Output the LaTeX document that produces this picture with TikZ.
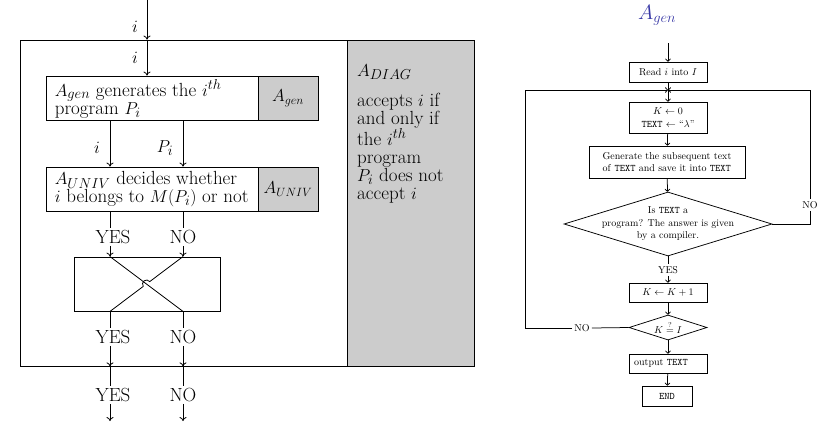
\documentclass[tikz,border=0pt]{standalone}
\usetikzlibrary{arrows.meta,shapes.geometric,calc}
\definecolor{agenblue}{RGB}{55,55,165}
\definecolor{panelgray}{RGB}{204,204,204}
\begin{document}
\begin{tikzpicture}[x=1pt,y=-1pt,
  big/.style={font={\fontsize{19}{18}\selectfont}},
  glab/.style={font={\fontsize{16.5}{18}\selectfont}},
  small/.style={font={\fontsize{10}{12.5}\selectfont}},
  lline/.style={line width=0.8pt},
  larr/.style={line width=0.8pt,-{To[length=4pt,width=7pt]}},
  rline/.style={line width=0.75pt},
  rarr/.style={line width=0.75pt,-{To[length=3pt,width=5.5pt]}},
  wbox/.style={draw,line width=0.8pt,fill=white,inner sep=0pt},
  gbox/.style={draw,line width=0.8pt,fill=panelgray,inner sep=0pt},
  lab/.style={big,inner sep=2pt},
  rbox/.style={draw,rline,small,inner sep=1pt,align=center},
  rlab/.style={small,inner sep=2pt,fill=white}]
\useasboundingbox (0,0) rectangle (818,423);

% ---------- left diagram ----------
\coordinate (top) at (147,0);
\coordinate (cm) at (147,0);
\coordinate (c1) at (110,0);
\coordinate (c2) at (183,0);

\node[wbox,minimum width=454pt,minimum height=326pt] (outer) at (247,203) {};
\node[gbox,anchor=north east,minimum width=127pt,minimum height=326pt] (diag) at (outer.north east) {};
\node[big,anchor=north west,align=left,inner sep=0pt] (diagt) at (357,64)
  {$A_{DIAG}$\\[12pt]accepts $i$ if\\and only if\\the $i^{th}$\\program\\$P_i$ does not\\accept $i$};

\node[wbox,minimum width=272pt,minimum height=44pt] (g1) at (182,98) {};
\node[gbox,anchor=east,minimum width=60pt,minimum height=44pt,glab] (g1g) at (g1.east) {$A_{gen}$};
\node[big,anchor=west,align=left,inner sep=0pt] (g1t) at ([xshift=9pt,yshift=-1pt]g1.west)
  {$A_{gen}$ generates the $i^{th}$\\program $P_i$};

\node[wbox,minimum width=272pt,minimum height=44pt] (g2) at (182,189) {};
\node[gbox,anchor=east,minimum width=60pt,minimum height=44pt,glab] (g2g) at (g2.east) {$A_{UNIV}$};
\node[big,anchor=west,align=left,inner sep=0pt] (g2t) at ([xshift=9pt,yshift=0pt]g2.west)
  {$A_{UNIV}$ decides whether\\$i$ belongs to $M(P_i)$ or not};

\node[wbox,minimum width=146pt,minimum height=54pt] (xb) at (147,284) {};

\node[lab] (li1) at (135,27) {$i$};
\node[lab] (li2) at (135,58) {$i$};
\node[lab] (li3) at (97,148) {$i$};
\node[lab] (lp) at (165,148) {$P_i$};

\draw[larr] (top) -- (outer.north -| cm);
\draw[larr] (outer.north -| cm) -- (g1.north -| cm);
\draw[larr] (g1.south -| c1) -- (g2.north -| c1);
\draw[larr] (g1.south -| c2) -- (g2.north -| c2);

\node[lab] (y1) at (113,237) {YES};
\node[lab] (n1) at (183,237) {NO};
\node[lab] (y2) at (113,337) {YES};
\node[lab] (n2) at (183,337) {NO};
\node[lab] (y3) at (113,395) {YES};
\node[lab] (n3) at (183,395) {NO};
\coordinate (bot) at (0,421);

\draw[lline] (g2.south -| c1) -- (y1.north -| c1);
\draw[larr] (y1.south -| c1) -- (xb.north -| c1);
\draw[lline] (g2.south -| c2) -- (n1.north -| c2);
\draw[larr] (n1.south -| c2) -- (xb.north -| c2);

\draw[lline] (xb.south -| c1) -- (y2.north -| c1);
\draw[larr] (y2.south -| c1) -- (outer.south -| c1);
\draw[lline] (xb.south -| c2) -- (n2.north -| c2);
\draw[larr] (n2.south -| c2) -- (outer.south -| c2);

\draw[lline] (outer.south -| c1) -- (y3.north -| c1);
\draw[larr] (y3.south -| c1) -- (bot -| c1);
\draw[lline] (outer.south -| c2) -- (n3.north -| c2);
\draw[larr] (n3.south -| c2) -- (bot -| c2);

% crossing
\coordinate (xa) at (xb.north -| c1);
\coordinate (xbb) at (xb.south -| c2);
\coordinate (xc) at (xb.north -| c2);
\coordinate (xd) at (xb.south -| c1);
\coordinate (xm) at ($(xc)!0.5!(xd)$);
\draw[lline] (xa) -- (xbb);
\draw[lline] (xc) -- ($(xm)!4pt!(xc)$) arc[start angle=-36.5,end angle=-216.5,radius=4] -- (xd);

% ---------- right diagram ----------
\node[text=agenblue,font=\fontsize{20}{24}\selectfont] (title) at (657,15) {$A_{gen}$};
\coordinate (rt) at (668,43);
\coordinate (j) at (668,90);
\coordinate (lx) at (525,0);
\coordinate (rx) at (810,0);

\node[rbox,minimum width=78pt,minimum height=20pt] (read) at (668,72) {Read $i$ into $I$};
\node[rbox,minimum width=78pt,minimum height=31pt] (k0) at (668,117.5) {$K\leftarrow 0$\\\texttt{TEXT} $\leftarrow$ “$\lambda$”};
\node[rbox,minimum width=156pt,minimum height=32pt,align=left] (gen) at (667,162)
  {Generate the subsequent text\\of \texttt{TEXT} and save it into \texttt{TEXT}};
\node[diamond,draw,rline,small,align=center,aspect=3.25,inner sep=-12pt,minimum width=208pt,minimum height=64pt] (d1) at (668,224)
  {Is \texttt{TEXT} a\\program? The answer is given\\by a compiler.};
\node[rlab] (yes) at (668,270) {YES};
\node[rbox,minimum width=78pt,minimum height=19pt] (kk) at (668,292.5) {$K\leftarrow K+1$};
\node[diamond,draw,rline,small,aspect=3.12,inner sep=0pt,minimum width=78pt,minimum height=25pt] (d2) at (668,327.5) {$K\stackrel{?}{=}I$};
\node[rbox,minimum width=78pt,minimum height=19pt] (out) at (668,363.5) {output \texttt{TEXT}\hspace{14pt}};
\node[rbox,minimum width=50pt,minimum height=20pt] (end) at (667,396) {\texttt{END}};
\node[rlab] (noR) at (810,205) {NO};
\node[rlab] (noL) at (582,328) {NO};

\draw[rarr] (rt) -- (read);
\draw[rarr] (read) -- (k0);
\draw[rarr] (k0) -- (gen);
\draw[rarr] (gen) -- (d1);
\draw[rline] (d1) -- (yes);
\draw[rarr] (yes) -- (kk);
\draw[rarr] (kk) -- (d2);
\draw[rarr] (d2) -- (out);
\draw[rarr] (out) -- (end);
\draw[rline] (d1.east) -| (noR.south);
\draw[rarr] (noR.north) |- (j);
\draw[rline] (d2.west) -- (noL.east);
\draw[rarr] (noL.west) -- (noL.west -| lx) |- (j);
\end{tikzpicture}
\end{document}
